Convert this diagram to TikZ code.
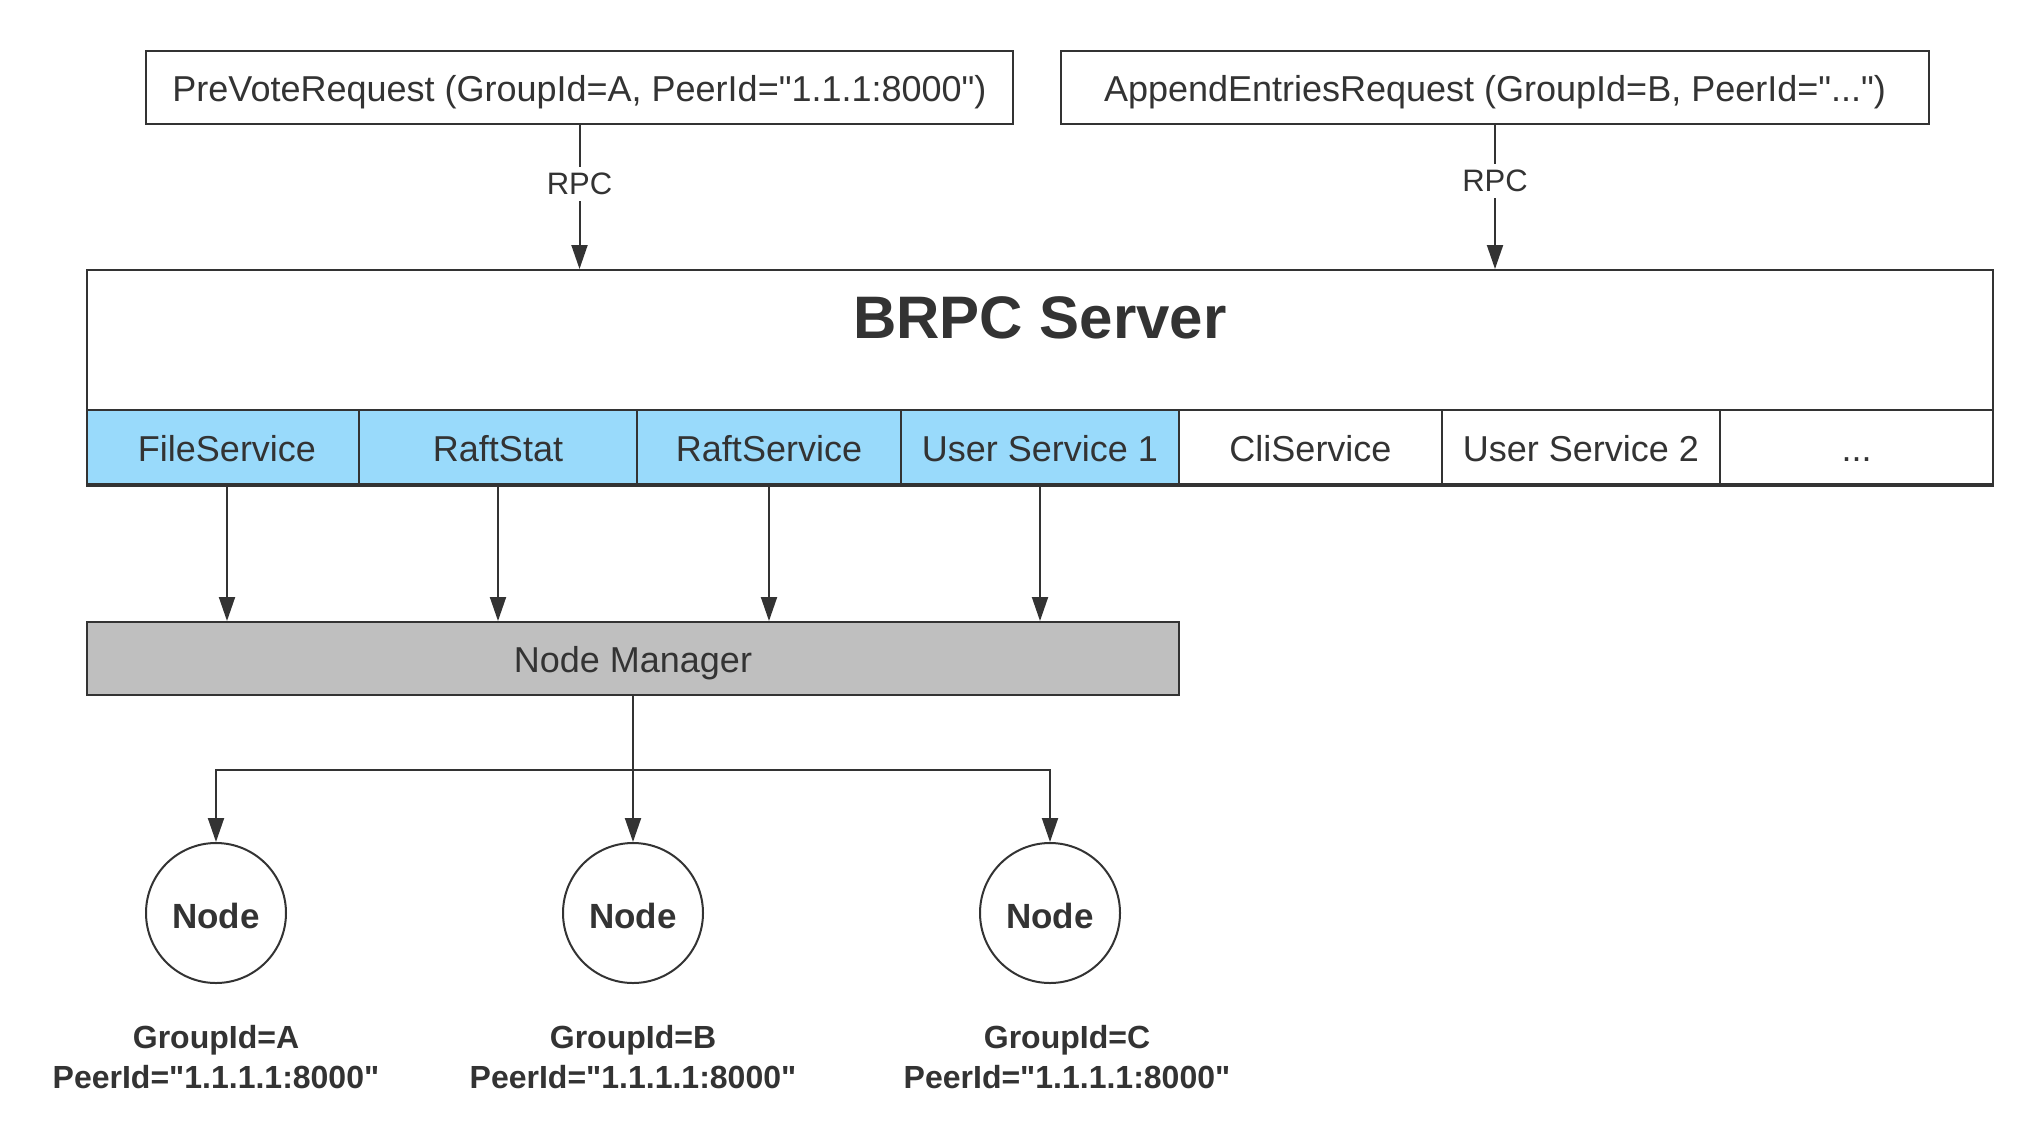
\documentclass[tikz,border=0pt]{standalone}
\usepackage{fontspec}
\setmainfont{Liberation Sans}[Ligatures=TeXOff]
\usetikzlibrary{arrows.meta}
\definecolor{ink}{HTML}{333333}
\definecolor{svcblue}{HTML}{99DAFB}
\definecolor{mgrgray}{HTML}{BFBFBF}
\tikzset{
  txt/.style={font=\fontsize{36}{42}\selectfont, text=ink, text height=30pt, text depth=2pt},
  reqbox/.style={draw=ink, line width=2pt, minimum width=867pt, minimum height=73pt, inner sep=0pt, txt},
  svc/.style={draw=ink, line width=2pt, minimum height=74pt, inner sep=0pt, txt},
  svcb/.style={svc, fill=svcblue},
  arr/.style={draw=ink, line width=2pt, -{Triangle[length=24pt,width=16pt]}},
  conn/.style={draw=ink, line width=2pt},
  rpc/.style={fill=white, inner sep=6pt, font=\fontsize{31}{37}\selectfont, text=ink},
  peer/.style={draw=ink, line width=2pt, circle, minimum size=140pt, inner sep=0pt, font=\fontsize{35}{42}\selectfont\bfseries, text=ink, fill=white, text height=32pt, text depth=2pt},
  peerlbl/.style={align=center, font=\fontsize{32}{40}\selectfont\bfseries, text=ink}
}
\begin{document}
\begin{tikzpicture}[x=1pt,y=-1pt]
\useasboundingbox[fill=white] (0,0) rectangle (2042,1146);
% request boxes
\node[reqbox] (req1) at (579.5,87.5) {PreVoteRequest (GroupId=A, PeerId="1.1.1:8000")};
\node[reqbox, minimum width=868pt] (req2) at (1495,87.5) {AppendEntriesRequest (GroupId=B, PeerId="...")};
% server
\node[draw=ink, line width=2pt, minimum width=1906pt, minimum height=214pt, inner sep=0pt] (srv) at (1040,377) {};
\node[font=\fontsize{60}{72}\selectfont\bfseries, text=ink] (title) at (1040,318) {BRPC Server};
\node[svcb, minimum width=272pt] (fs) at (223,447) {\hspace{8pt}FileService};
\node[svcb, minimum width=278pt] (rst) at (498,447) {RaftStat};
\node[svcb, minimum width=264pt] (rsv) at (769,447) {RaftService};
\node[svcb, minimum width=278pt] (us1) at (1040,447) {User Service 1};
\node[svc, minimum width=263pt] (cli) at (1310.5,447) {CliService};
\node[svc, minimum width=278pt] (us2) at (1581,447) {User Service 2};
\node[svc, minimum width=273pt] (more) at (1856.5,447) {...};
\draw[draw=ink, line width=4pt] (srv.south west) -- (srv.south east);
% rpc arrows
\draw[arr] (req1.south) -- node[rpc, pos=0.41] (rpc1) {RPC} (req1.south |- srv.north);
\draw[arr] (req2.south) -- node[rpc, pos=0.39] (rpc2) {RPC} (req2.south |- srv.north);
% node manager
\node[draw=ink, line width=2pt, fill=mgrgray, minimum width=1092pt, minimum height=73pt, inner sep=0pt, txt] (nm) at (633,658.5) {Node Manager};
\draw[arr] ([xshift=4pt]fs.south) -- ([xshift=4pt]fs.south |- nm.north);
\draw[arr] (rst.south) -- (rst.south |- nm.north);
\draw[arr] (rsv.south) -- (rsv.south |- nm.north);
\draw[arr] (us1.south) -- (us1.south |- nm.north);
% nodes
\node[peer] (n1) at (216,913) {Node};
\node[peer] (n2) at (633,913) {Node};
\node[peer] (n3) at (1050,913) {Node};
\coordinate (j) at (633,770);
\draw[conn] (nm.south) -- (j);
\draw[arr] (j) -| (n1.north);
\draw[arr] (j) -| (n3.north);
\draw[arr] (j) -- (n2.north);
\node[peerlbl] (l1) at (216,1057) {GroupId=A\\PeerId="1.1.1.1:8000"};
\node[peerlbl] (l2) at (633,1057) {GroupId=B\\PeerId="1.1.1.1:8000"};
\node[peerlbl] (l3) at (1067,1057) {GroupId=C\\PeerId="1.1.1.1:8000"};
\end{tikzpicture}
\end{document}
